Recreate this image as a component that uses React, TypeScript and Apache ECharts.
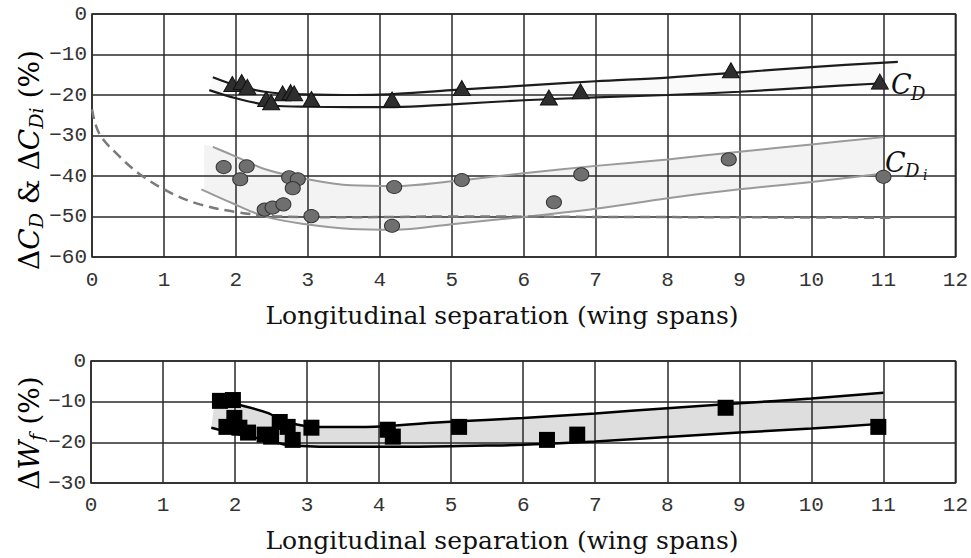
import React, { useEffect, useRef } from "react";
import * as echarts from "echarts";

// ---- Data ----
const xMin = 0;
const xMax = 12;
const topYMin = -60;
const bottomYMin = -30;

// Triangles: ΔC_D measurements
const cdPoints: number[][] = [
  [1.95, -17.3], [2.08, -16.8], [2.16, -18.0], [2.42, -21.0], [2.49, -21.8],
  [2.65, -19.6], [2.76, -19.3], [2.81, -19.6], [3.05, -21.0], [4.17, -21.1],
  [5.14, -18.3], [6.35, -20.6], [6.79, -19.1], [8.88, -13.9], [10.95, -16.7],
];
// Circles: ΔC_Di measurements
const cdiPoints: number[][] = [
  [1.83, -37.8], [2.15, -37.6], [2.06, -40.8], [2.4, -48.3], [2.51, -47.8],
  [2.66, -47.0], [2.74, -40.3], [2.86, -40.8], [2.79, -43.0], [3.05, -49.9],
  [4.2, -42.7], [4.17, -52.3], [5.14, -41.0], [6.42, -46.5], [6.8, -39.6],
  [8.85, -35.9], [11.0, -40.2],
];
// Squares: ΔW_f measurements
const wfPoints: number[][] = [
  [1.79, -9.8], [1.97, -9.6], [1.99, -14.0], [1.88, -16.2], [2.06, -16.4],
  [2.18, -17.6], [2.41, -18.1], [2.5, -18.6], [2.62, -15.0], [2.73, -16.2],
  [2.8, -19.4], [3.06, -16.4], [4.12, -16.9], [4.19, -18.6], [5.11, -16.2],
  [6.33, -19.4], [6.75, -18.1], [8.81, -11.5], [10.93, -16.2],
];

// Band boundaries
const cdUpper: number[][] = [
  [1.68, -15.6], [2.0, -17.6], [2.4, -19.2], [2.8, -19.8], [3.5, -20.0],
  [4.0, -19.9], [5.0, -18.8], [6.0, -17.7], [7.0, -16.6], [8.0, -15.7],
  [9.0, -14.4], [10.0, -13.1], [11.2, -11.8],
];
const cdLower: number[][] = [
  [1.63, -18.8], [2.0, -20.8], [2.5, -22.6], [3.0, -22.9], [4.2, -23.0],
  [5.0, -22.3], [6.0, -21.3], [7.0, -20.6], [8.0, -20.0], [9.0, -19.2],
  [10.0, -18.1], [11.0, -17.1],
];
const cdiUpper: number[][] = [
  [1.68, -32.8], [2.0, -35.2], [2.42, -38.4], [3.0, -40.8], [3.6, -42.3],
  [4.2, -42.5], [5.0, -41.3], [6.0, -39.3], [7.0, -37.5], [8.0, -35.9],
  [9.0, -34.0], [10.0, -32.2], [11.0, -30.4],
];
const cdiLower: number[][] = [
  [1.52, -43.3], [1.96, -46.8], [2.42, -50.1], [3.0, -52.0], [3.6, -53.1],
  [4.2, -53.3], [5.0, -51.9], [6.0, -50.1], [7.0, -48.1], [8.0, -45.5],
  [9.0, -43.3], [10.0, -41.5], [11.0, -39.4],
];
// Shaded region behind the ΔC_Di band (its left edge is straight)
const cdiShadeLeft: number[][] = [[1.56, -43.8], [1.56, -32.2]];
const cdiDashed: number[][] = [
  [0.0, -23.5], [0.1, -29.5], [0.4, -35.5], [0.7, -40.0], [1.13, -44.5],
  [1.5, -47.0], [2.0, -48.9], [2.6, -50.0], [3.5, -50.2], [5.0, -50.0],
  [7.0, -50.1], [9.0, -50.2], [11.1, -50.3],
];
const wfUpper: number[][] = [
  [1.72, -9.4], [2.06, -10.8], [2.44, -12.7], [2.76, -15.2], [3.13, -16.2],
  [3.82, -16.2], [4.74, -15.2], [5.48, -14.5], [6.0, -14.0], [7.0, -12.9],
  [8.0, -11.6], [9.0, -10.4], [10.0, -9.2], [11.0, -7.8],
];
const wfLower: number[][] = [
  [1.67, -16.4], [2.06, -18.1], [2.44, -19.4], [2.71, -20.6], [3.35, -21.1],
  [4.28, -21.1], [5.48, -20.8], [6.0, -20.6], [7.0, -19.8], [8.0, -18.7],
  [9.0, -17.6], [10.0, -16.6], [11.0, -15.4],
];

const xTitle = "Longitudinal separation (wing spans)";

const SERIF = "DejaVu Serif";
const MONO = "Liberation Mono";

function bandSeries(upper: number[][], lower: number[][], fill: string, axisIndex: number, extra: number[][] = []) {
  const poly = upper.concat(lower.slice().reverse()).concat(extra);
  return {
    type: "custom",
    xAxisIndex: axisIndex,
    yAxisIndex: axisIndex,
    z: 0,
    silent: true,
    data: [poly[0]],
    renderItem: (_params: any, api: any) => ({
      type: "polygon",
      shape: { points: poly.map((p) => api.coord(p)) },
      style: { fill },
    }),
  };
}

function lineSeries(data: number[][], color: string, width: number, axisIndex: number, dashed?: boolean) {
  return {
    type: "line",
    xAxisIndex: axisIndex,
    yAxisIndex: axisIndex,
    data,
    smooth: 0.35,
    symbol: "none",
    showSymbol: false,
    silent: true,
    lineStyle: { color, width, type: dashed ? [10, 6] : "solid" },
    z: 2,
  };
}

const fmtY = (v: number) => (v < 0 ? "\u2212" + String(-v) : String(v));

export default function App() {
  const ref = useRef<HTMLDivElement>(null);
  useEffect(() => {
    if (!ref.current) return;
    const chart = echarts.init(ref.current, undefined, { renderer: "svg" });

    const xAxisBase = (gridIndex: number, margin: number) => ({
      type: "value",
      gridIndex,
      min: xMin,
      max: xMax,
      interval: 1,
      z: 1,
      axisLine: { show: false },
      axisTick: { show: false },
      splitLine: { show: true, lineStyle: { color: "#2a2a2a", width: 1.5 } },
      axisLabel: {
        margin,
        fontFamily: MONO,
        fontSize: 21,
        color: "#333",
        showMinLabel: true,
        showMaxLabel: true,
      },
    });
    const yAxisBase = (gridIndex: number, min: number) => ({
      type: "value",
      gridIndex,
      min,
      max: 0,
      interval: 10,
      z: 1,
      axisLine: { show: false },
      axisTick: { show: false },
      splitLine: { show: true, lineStyle: { color: "#2a2a2a", width: 1.5 } },
      axisLabel: {
        margin: 5,
        fontFamily: MONO,
        fontSize: 21,
        color: "#333",
        formatter: fmtY,
        showMinLabel: true,
        showMaxLabel: true,
      },
    });

    const richTitle = {
      d: { fontFamily: SERIF, fontStyle: "normal", fontSize: 28, lineHeight: 33, color: "#111" },
      c: { fontFamily: SERIF, fontSize: 28, lineHeight: 33, fontStyle: "italic", color: "#111" },
      t: { fontFamily: SERIF, fontStyle: "normal", fontSize: 28, lineHeight: 33, color: "#111" },
      s: { fontFamily: SERIF, fontSize: 19, lineHeight: 19, fontStyle: "italic", verticalAlign: "bottom", color: "#111" },
    };

    const titleStyle = (y: number) => ({
      type: "text",
      x: 502,
      y,
      style: {
        text: xTitle,
        fontFamily: SERIF,
        fontSize: 25,
        fontStyle: "normal",
        fill: "#111",
        align: "center",
        verticalAlign: "middle",
      },
    });

    const label = (x: number, y: number, text: string, size: number) => ({
      type: "text",
      x,
      y,
      style: {
        text,
        fontFamily: SERIF,
        fontStyle: "italic",
        fontSize: size,
        fill: "#111",
        align: "left",
        verticalAlign: "middle",
      },
    });

    chart.setOption({
      animation: false,
      backgroundColor: "#fff",
      grid: [
        { left: 92, top: 14, width: 866, height: 243, show: true, borderColor: "#222", borderWidth: 1.5, backgroundColor: "transparent" },
        { left: 91, top: 361, width: 866, height: 122, show: true, borderColor: "#222", borderWidth: 1.5, backgroundColor: "transparent" },
      ],
      xAxis: [xAxisBase(0, 13), xAxisBase(1, 12)],
      yAxis: [yAxisBase(0, topYMin), yAxisBase(1, bottomYMin)],
      series: [
        bandSeries(cdiUpper, cdiLower, "#f3f3f3", 0, cdiShadeLeft),
        bandSeries(cdUpper, cdLower, "#fafafa", 0),
        lineSeries(cdiUpper, "#9a9a9a", 2, 0),
        lineSeries(cdiLower, "#9a9a9a", 2, 0),
        lineSeries(cdiDashed, "#7a7a7a", 2.5, 0, true),
        lineSeries(cdUpper, "#1c1c1c", 2.2, 0),
        lineSeries(cdLower, "#1c1c1c", 2.2, 0),
        {
          type: "scatter",
          xAxisIndex: 0,
          yAxisIndex: 0,
          data: cdiPoints,
          symbol: "circle",
          symbolSize: [15, 13],
          itemStyle: { color: "#6f6f6f", borderColor: "#333", borderWidth: 1, opacity: 1 },
          z: 3,
        },
        {
          type: "scatter",
          xAxisIndex: 0,
          yAxisIndex: 0,
          data: cdPoints,
          symbol: "triangle",
          symbolSize: [17, 15],
          itemStyle: { color: "#2e2e2e", borderColor: "#111", borderWidth: 1, opacity: 1 },
          z: 3,
        },
        bandSeries(wfUpper, wfLower, "#dedede", 1),
        lineSeries(wfUpper, "#000", 2.5, 1),
        lineSeries(wfLower, "#000", 2.5, 1),
        {
          type: "scatter",
          xAxisIndex: 1,
          yAxisIndex: 1,
          data: wfPoints,
          symbol: "rect",
          symbolSize: 16,
          itemStyle: { color: "#000", opacity: 1 },
          z: 3,
        },
      ],
      graphic: [
        titleStyle(315),
        titleStyle(540),
        {
          type: "text",
          x: 29,
          y: 160,
          rotation: Math.PI / 2,
          style: {
            text: "{d|Δ}{c|C}{s|D}{t| & }{d|Δ}{c|C}{s|Di}{t| (%)}",
            rich: richTitle,
            align: "center",
            verticalAlign: "middle",
          },
        },
        {
          type: "text",
          x: 29,
          y: 433,
          rotation: Math.PI / 2,
          style: {
            text: "{d|Δ}{c|W}{s|f}{t| (%)}",
            rich: richTitle,
            align: "center",
            verticalAlign: "middle",
          },
        },
        // Curve labels
        label(891, 84, "C", 27),
        label(911, 93, "D", 18),
        label(885, 162, "C", 27),
        label(905, 170, "D", 18),
        label(923, 175, "i", 14),
      ],
    });
    return () => chart.dispose();
  }, []);
  return (
    <div
      ref={ref}
      style={{ position: "fixed", left: 0, top: 0, width: 971, height: 558, background: "#fff" }}
    />
  );
}
